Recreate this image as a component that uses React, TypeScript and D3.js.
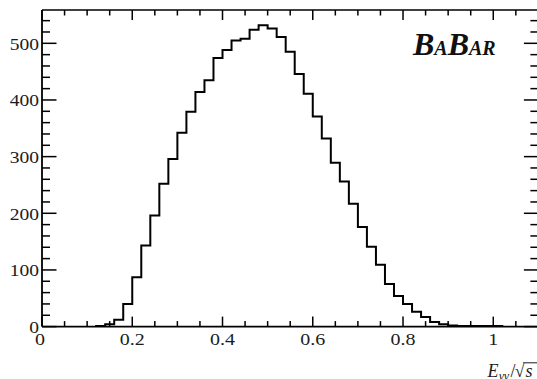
import React from "react";
import * as d3 from "d3";

// Histogram bins (lower edges) and counts
const binLow = [
  0.12, 0.14, 0.16, 0.18, 0.2, 0.22, 0.24, 0.26, 0.28, 0.3,
  0.32, 0.34, 0.36, 0.38, 0.4, 0.42, 0.44, 0.46, 0.48, 0.5,
  0.52, 0.54, 0.56, 0.58, 0.6, 0.62, 0.64, 0.66, 0.68, 0.7,
  0.72, 0.74, 0.76, 0.78, 0.8, 0.82, 0.84, 0.86, 0.88, 0.9,
  0.92, 0.94, 0.96, 0.98, 1.0,
];
const counts = [
  1, 4, 12, 40, 87, 143, 196, 252, 296, 342,
  379, 414, 435, 474, 488, 505, 508, 524, 532, 526,
  511, 485, 446, 411, 371, 332, 289, 256, 217, 176,
  141, 109, 75, 54, 40, 26, 17, 8, 4, 2,
  1, 1, 1, 1, 1,
];
const binWidth = 0.02;

const xTickValues = [0, 0.2, 0.4, 0.6, 0.8, 1];
const xTickLabels = ["0", "0.2", "0.4", "0.6", "0.8", "1"];
const yTickValues = [0, 100, 200, 300, 400, 500];
const yTickLabels = ["0", "100", "200", "300", "400", "500"];

const W = 537;
const H = 379;
const left = 42;
const right = 538.4;
const top = 10;
const bottom = 326.6;

const FONT = "Liberation Serif, Times New Roman, Times, DejaVu Serif, serif";

export default function App() {
  const x = d3.scaleLinear().domain([0, 1.1]).range([left, right]);
  const y = d3.scaleLinear().domain([0, 558.8]).range([bottom, top]);

  const pts: [number, number][] = [[binLow[0], 0]];
  binLow.forEach((b, i) => pts.push([b, counts[i]]));
  pts.push([binLow[binLow.length - 1] + binWidth, 0]);
  const line = d3
    .line<[number, number]>()
    .x((d) => x(d[0]))
    .y((d) => y(d[1]))
    .curve(d3.curveStepAfter);

  const xMinor = d3.range(0, 1.1001, 0.05);
  const yMinor = d3.range(0, 560, 20);
  const isMajorX = (v: number) => Math.abs(v / 0.2 - Math.round(v / 0.2)) < 1e-6;
  const isMajorY = (v: number) => v % 100 === 0;

  const ink = "#1c1c1c";
  const ts = (size: number, extra: React.CSSProperties = {}): React.CSSProperties => ({
    fontFamily: FONT,
    fontSize: size,
    ...extra,
  });

  return (
    <svg
      width={W}
      height={H}
      style={{ position: "absolute", left: 0, top: 0, background: "#fff" }}
    >
      <rect x={0} y={0} width={W} height={H} fill="#fff" />
      {/* histogram */}
      <path d={line(pts) || ""} fill="none" stroke="#000" strokeWidth={2} strokeLinejoin="miter" />

      {/* frame */}
      <line x1={left} x2={right} y1={bottom} y2={bottom} stroke="#000" strokeWidth={1.8} />
      <line x1={left} x2={right} y1={top} y2={top} stroke="#000" strokeWidth={1.5} />
      <line x1={left} x2={left} y1={top} y2={bottom} stroke="#000" strokeWidth={1.8} />
      <line x1={right} x2={right} y1={top} y2={bottom} stroke="#000" strokeWidth={1.5} />

      {/* x ticks bottom & top */}
      {xMinor.map((v, i) => {
        const len = isMajorX(v) ? 10 : 5.5;
        return (
          <g key={"xt" + i}>
            <line x1={x(v)} x2={x(v)} y1={bottom} y2={bottom - len} stroke="#000" strokeWidth={1.5} />
            <line x1={x(v)} x2={x(v)} y1={top} y2={top + len} stroke="#000" strokeWidth={1.5} />
          </g>
        );
      })}
      {/* y ticks left & right */}
      {yMinor.map((v, i) => {
        const len = isMajorY(v) ? 14.5 : 8;
        return (
          <g key={"yt" + i}>
            <line x1={left} x2={left + len} y1={y(v)} y2={y(v)} stroke="#000" strokeWidth={1.5} />
            <line x1={right} x2={right - len} y1={y(v)} y2={y(v)} stroke="#000" strokeWidth={1.5} />
          </g>
        );
      })}

      {/* y labels */}
      {yTickValues.map((v, i) => (
        <g key={"yl" + i} transform={`translate(${39},${y(v) + 6.3}) scale(1.15,1)`}>
          <text x={0} y={0} textAnchor="end" style={ts(17)} fill={ink}>
            {yTickLabels[i]}
          </text>
        </g>
      ))}
      {/* x labels */}
      {xTickValues.map((v, i) => (
        <g key={"xl" + i} transform={`translate(${x(v) - (v === 0 ? 2 : 0)},${344.5}) scale(1.25,1)`}>
          <text x={0} y={0} textAnchor="middle" style={ts(16)} fill={ink}>
            {xTickLabels[i]}
          </text>
        </g>
      ))}

      {/* axis title */}
      <text x={487.5} y={376.5} style={ts(18, { fontStyle: "italic" })} fill={ink}>E</text>
      <text x={499} y={379.5} style={ts(12.5, { fontStyle: "italic" })} fill={ink}>γγ</text>
      <text x={510.5} y={376.5} style={ts(18)} fill={ink}>/</text>
      <text x={515} y={376.5} style={ts(17)} fill={ink}>√</text>
      <line x1={523} x2={537} y1={362.8} y2={362.8} stroke={ink} strokeWidth={1} />
      <text x={525.5} y={376.5} style={ts(18, { fontStyle: "italic" })} fill={ink}>s</text>

      {/* BABAR logo */}
      <text x={413} y={55} style={ts(32, { fontWeight: "bold", fontStyle: "italic" })} fill="#111">
        <tspan style={{ fontSize: 32 }}>B</tspan>
        <tspan style={{ fontSize: 20 }}>A</tspan>
        <tspan style={{ fontSize: 32 }}>B</tspan>
        <tspan style={{ fontSize: 20 }}>AR</tspan>
      </text>
    </svg>
  );
}
